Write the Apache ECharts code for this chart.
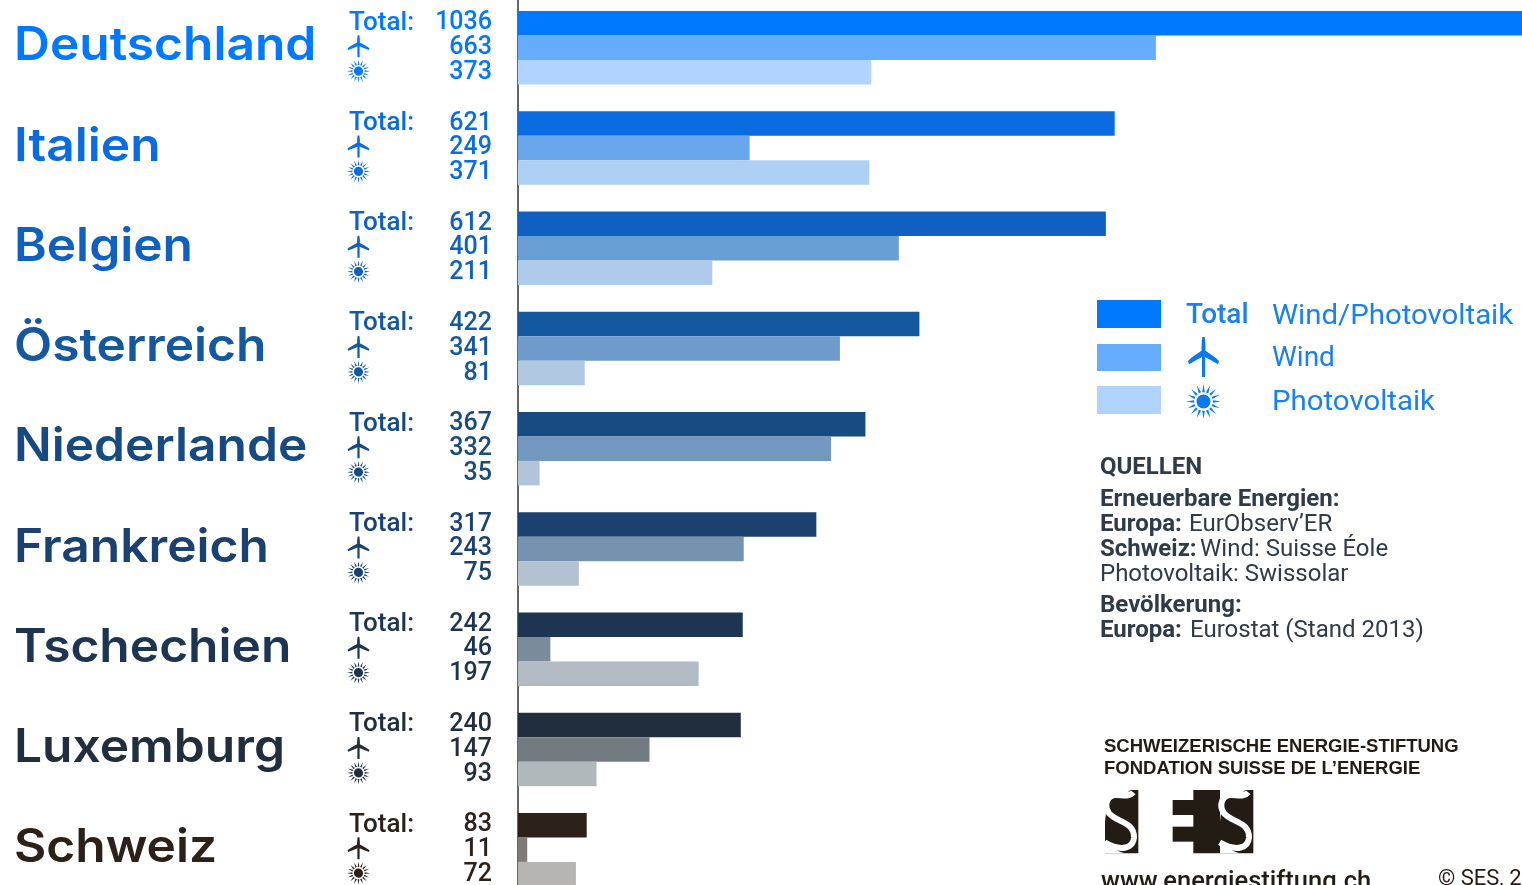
<!DOCTYPE html>
<html>
<head>
<meta charset="utf-8">
<style>html,body{margin:0;padding:0;background:#fff;overflow:hidden}#chart{width:1522px;height:885px}</style>
<script src="https://cdn.jsdelivr.net/npm/echarts@6/dist/echarts.min.js"></script>
</head>
<body>
<div id="chart"></div>
<script>
// Wind and photovoltaic output per country
const countries = ['Deutschland','Italien','Belgien','Österreich','Niederlande','Frankreich','Tschechien','Luxemburg','Schweiz'];
const totals = [1036,621,612,422,367,317,242,240,83];
const wind = [663,249,401,341,332,243,46,147,11];
const solar = [373,371,211,81,35,75,197,93,72];

const totalColors = ['#0078ff','#0a6ce0','#0f60c0','#14589f','#164a80','#1a4170','#1d3550','#202e3e','#2b2118'];
const windColors = ['#66adff','#68a5ea','#6a9fd6','#6e9bcb','#7298bf','#7592ae','#7a8b9c','#727c80','#7f7c78'];
const solarColors = ['#b0d4ff','#afd0f5','#aecbeb','#b0c8e2','#b2c4d9','#b3c2d0','#b2bac4','#b1b8bb','#b5b4b0'];

const FONT = 'Roboto';

// Icon and logo outlines, all on small local grids
const TURBINE = 'M46 0 C44 14 43 26 44 34 C30 42 12 50 0 60 L3 68 C16 62 32 56 45 50 L45 100 L55 100 L55 50 C68 56 84 62 97 68 L100 60 C88 50 70 42 56 34 C57 26 56 14 54 0 Z';
function sunPath() {
  let d = 'M50 30 A20 20 0 1 1 49.9 30 Z ';
  for (let i = 0; i < 16; i++) {
    const a = i * Math.PI / 8, w = 0.14;
    const p = (r, t) => (50 + r * Math.cos(t)).toFixed(1) + ' ' + (50 + r * Math.sin(t)).toFixed(1);
    d += 'M' + p(27, a - w) + ' L' + p(50, a) + ' L' + p(27, a + w) + ' Z ';
  }
  return d;
}
const S_BAND = 'M100 22 C88 36 70 30 48 30 C24 30 8 58 28 86 C50 112 104 110 102 158 C100 188 66 202 14 172';
const S_TOP = 'M15 15 L92 15 L80 24 L40 24 L22 50 L15 110 Z';
const S_BOTTOM = 'M15 176 L60 200 L74 205 L15 205 Z';
const shapes = { turbine: TURBINE, sun: sunPath(), sBand: S_BAND, sTop: S_TOP, sBottom: S_BOTTOM };
Object.keys(shapes).forEach(k => echarts.graphic.registerShape(k, echarts.graphic.extendPath(shapes[k], {})));

function barSeries(name, values, colors) {
  return {
    // the minimum keeps the smallest value visible as a short stub past the axis line
    name, type: 'bar', barWidth: 24.5, barGap: '0%', barMinHeight: 22, z: 2, silent: true,
    data: values.map((v, i) => ({ value: v, itemStyle: { color: colors[i] } }))
  };
}

// Per-country readout: name, totals, icons
function renderReadout(params, api) {
  const i = api.value(0);
  const cy = api.coord([100, i])[1];
  const color = totalColors[i];
  const text = (x, y, str, align, font) => ({
    type: 'text', x, y,
    style: { text: str, fill: color, font, textAlign: align, textVerticalAlign: 'middle' }
  });
  const digits = '500 25px ' + FONT;
  const icon = (kind, y, size) => ({
    type: kind, x: 358.5 - size / 2, y: y - size / 2, scaleX: size / 100, scaleY: size / 100,
    style: { fill: color }
  });
  const name = text(14, cy - 1, countries[i], 'left', '600 46px Inter');
  name.scaleX = 1.08;
  return {
    type: 'group',
    children: [
      name,
      text(349, cy - 24.5, 'Total:', 'left', '500 26px ' + FONT),
      text(492, cy - 24.5, String(totals[i]), 'right', digits),
      text(492, cy, String(wind[i]), 'right', digits),
      text(492, cy + 25, String(solar[i]), 'right', digits),
      icon('turbine', cy - 1.5, 22),
      icon('sun', cy + 23.5, 23)
    ]
  };
}

// Logo built from black blocks with the white S band cut through them
function logoParts() {
  const ink = '#231c15';
  const parts = [];
  const block = (x, y, w, h) => parts.push({ type: 'rect', shape: { x, y, width: w, height: h }, style: { fill: ink }, z: 1 });
  const cuts = dx => {
    parts.push({ type: 'sTop', x: dx, style: { fill: '#fff' }, z: 2 });
    parts.push({ type: 'sBottom', x: dx, style: { fill: '#fff' }, z: 2 });
    parts.push({ type: 'sBand', x: dx, style: { fill: 'none', stroke: '#fff', lineWidth: 18 }, z: 3 });
  };
  block(15, 15, 100, 190);
  cuts(0);
  block(218, 45, 70, 45);
  block(218, 125, 70, 45);
  block(280, 15, 180, 190);
  cuts(345);
  return parts;
}

const legendRows = [
  { y: 314, color: totalColors[0], h: 28 },
  { y: 357.5, color: windColors[0], h: 27 },
  { y: 400, color: solarColors[0], h: 28 }
];
const sourceLines = [
  { y: 468, runs: [['QUELLEN', 700]] },
  { y: 500, runs: [['Erneuerbare Energien:', 700]] },
  { y: 525, runs: [['Europa:', 700], ['EurObserv’ER', 400]] },
  { y: 550, runs: [['Schweiz:', 700], ['Wind: Suisse Éole', 400]] },
  { y: 575, runs: [['Photovoltaik: Swissolar', 400]] },
  { y: 606, runs: [['Bevölkerung:', 700]] },
  { y: 631, runs: [['Europa:', 700], ['Eurostat (Stand 2013)', 400]] }
];
const runStart = { 525: 1189, 550: 1200, 631: 1190 };

function legendGraphics() {
  const out = [];
  const label = (x, y, str, weight, sx) => out.push({
    type: 'text', x, y, scaleX: sx,
    style: { text: str, fill: '#1a80ec', font: weight + ' 28px ' + FONT, textVerticalAlign: 'middle' }
  });
  legendRows.forEach(r => out.push({
    type: 'rect', shape: { x: 1097, y: r.y - r.h / 2, width: 64, height: r.h }, style: { fill: r.color }
  }));
  label(1186, 316, 'Total', 500, 1);
  label(1272, 317, 'Wind/Photovoltaik', 400, 1.05);
  label(1272, 359, 'Wind', 400, 1);
  label(1272, 403, 'Photovoltaik', 400, 1.05);
  out.push({ type: 'turbine', x: 1188, y: 337, scaleX: 0.31, scaleY: 0.4, style: { fill: '#0a78f0' } });
  out.push({ type: 'sun', x: 1186, y: 384, scaleX: 0.35, scaleY: 0.35, style: { fill: '#0a78f0' } });

  sourceLines.forEach(line => line.runs.forEach((run, k) => out.push({
    type: 'text', x: k ? runStart[line.y] : 1100, y: line.y,
    style: { text: run[0], fill: '#2f3b48', font: run[1] + ' 24px ' + FONT, textVerticalAlign: 'middle' }
  })));

  const ink = '#231c15';
  const small = (x, y, str, font) => out.push({
    type: 'text', x, y, style: { text: str, fill: ink, font, textVerticalAlign: 'middle' }
  });
  small(1104, 747, 'SCHWEIZERISCHE ENERGIE-STIFTUNG', '700 18.5px "Liberation Sans"');
  small(1104, 769, 'FONDATION SUISSE DE L’ENERGIE', '700 18.5px "Liberation Sans"');
  small(1101, 883, 'www.energiestiftung.ch', '500 25.5px ' + FONT);
  small(1438, 879, '© SES, 2014', '400 22px ' + FONT);
  out.push({ type: 'group', x: 1100, y: 785, scaleX: 1 / 3, scaleY: 1 / 3, children: logoParts() });
  return out;
}

const chart = echarts.init(document.getElementById('chart'), null, { renderer: 'canvas' });
chart.setOption({
  animation: false,
  backgroundColor: '#fff',
  grid: { left: 518, right: 0, top: -2.5, height: 902.25, outerBoundsMode: 'none' },
  xAxis: { type: 'value', min: 13, max: 1036, show: false },
  yAxis: {
    type: 'category', data: countries, inverse: true,
    axisTick: { show: false },
    axisLine: { show: true, lineStyle: { color: '#333', width: 1.5 } },
    axisLabel: { show: false }
  },
  series: [
    barSeries('Total', totals, totalColors),
    barSeries('Wind', wind, windColors),
    barSeries('Photovoltaik', solar, solarColors),
    {
      type: 'custom', name: 'Werte', silent: true, clip: false,
      coordinateSystem: 'cartesian2d',
      encode: { x: 1, y: 0 },
      data: countries.map((c, i) => [i, totals[i]]),
      renderItem: renderReadout, z: 3
    }
  ],
  graphic: legendGraphics()
});
</script>
</body>
</html>
